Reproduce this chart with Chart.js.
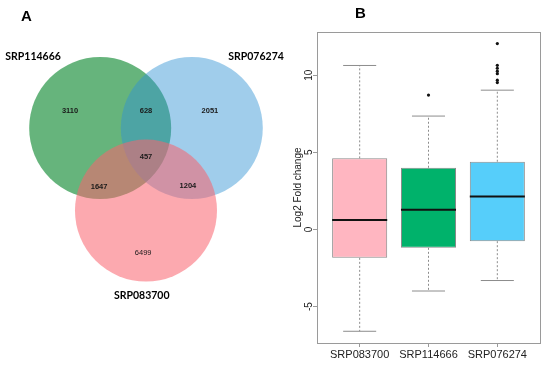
<!DOCTYPE html>
<html>
<head>
<meta charset="utf-8">
<script src="https://cdn.jsdelivr.net/npm/chart.js@4.4.1/dist/chart.umd.min.js"></script>
<style>
  html, body { margin: 0; padding: 0; background: #fff; }
  #wrap { position: relative; width: 550px; height: 368px; overflow: hidden; }
  .panel { position: absolute; top: 0; height: 368px; }
  #vennPanel { left: 0; width: 300px; }
  #boxPanel { left: 275px; width: 275px; }
  .tag { position: absolute; font: bold 15px "Liberation Sans", Arial, sans-serif; color: #000; line-height: 17px; }
</style>
</head>
<body>
<div id="wrap">
  <div class="panel" id="vennPanel"><canvas id="vennChart"></canvas></div>
  <div class="panel" id="boxPanel"><canvas id="boxChart"></canvas></div>
  <div class="tag" style="left:21px; top:7px;">A</div>
  <div class="tag" style="left:355px; top:4px;">B</div>
</div>
<script>
// panel A - venn
const vennSets = ['SRP114666', 'SRP076274', 'SRP083700'];
// 114666 only, 114666&076274, 076274 only, all three, 114666&083700, 076274&083700, 083700 only
const vennCounts = [3110, 628, 2051, 457, 1647, 1204, 6499];

// panel B - boxplot of log2 fold change
const categories = ['SRP083700', 'SRP114666', 'SRP076274'];
const whiskerLow = [-6.60, -3.99, -3.31];
const quart1 = [-1.84, -1.19, -0.76];
const medians = [0.62, 1.27, 2.13];
const quart3 = [4.61, 4.00, 4.39];
const whiskerHigh = [10.63, 7.35, 9.03];
const outliers = [[], [8.71], [12.05, 10.64, 10.45, 10.26, 10.10, 9.68, 9.52]];
const yTicks = [-5, 0, 5, 10];

// layout of the venn (units of one circle radius)
const circleX = [-0.645, 0.645, 0];
const circleY = [0, 0, -1.14];
const circleColors = ['rgba(51,155,80,0.75)', 'rgba(48,146,211,0.46)', 'rgba(250,99,110,0.55)'];
const countPos = [[-1.07, 0.235], [0, 0.235], [0.9, 0.235], [0, -0.4], [-0.66, -0.81], [0.59, -0.8], [-0.04, -1.73]];
const namePos = [[-1.59, 0.98], [1.55, 0.98], [-0.06, -2.32]];

const vennText = {
    id: 'vennText',
    afterDatasetsDraw(chart) {
        const { ctx, scales: { x, y } } = chart;
        ctx.save();
        ctx.textAlign = 'center';
        ctx.textBaseline = 'middle';
        ctx.fillStyle = '#1a1a1a';
        vennCounts.forEach((n, i) => {
            ctx.font = (i === 6 ? '' : 'bold ') + '7.5px "Liberation Sans", Arial, sans-serif';
            ctx.fillText(String(n), x.getPixelForValue(countPos[i][0]), y.getPixelForValue(countPos[i][1]));
        });
        ctx.fillStyle = '#000';
        ctx.font = 'bold 10.5px Lato, "Liberation Sans", sans-serif';
        vennSets.forEach((s, i) => {
            ctx.fillText(s, x.getPixelForValue(namePos[i][0]), y.getPixelForValue(namePos[i][1]));
        });
        ctx.restore();
    }
};

new Chart(document.getElementById('vennChart'), {
    type: 'scatter',
    data: {
        datasets: [{
            data: vennSets.map((s, i) => ({ x: circleX[i], y: circleY[i] })),
            backgroundColor: circleColors,
            borderWidth: 0,
            pointRadius: (c) => {
                const sx = c.chart.scales.x;
                return sx.getPixelForValue(1) - sx.getPixelForValue(0);
            },
        }]
    },
    options: {
        responsive: true,
        maintainAspectRatio: false,
        animation: false,
        events: [],
        layout: { padding: 0 },
        plugins: { legend: { display: false }, tooltip: { enabled: false } },
        scales: {
            x: { type: 'linear', display: false, min: -2.056, max: 2.169 },
            y: { type: 'linear', display: false, min: -3.315, max: 1.768 }
        }
    },
    plugins: [vennText]
});

// boxplot
const positions = categories.map((c, i) => i + 1);
const boxHalf = 0.4;
const capHalf = 0.24;

const boxData = positions.map((x, i) => ({ x, y: [quart1[i], quart3[i]] }));
const medianData = positions.flatMap((x, i) => [
    { x: x - boxHalf, y: medians[i] }, { x: x + boxHalf, y: medians[i] }, { x, y: null }
]);
const whiskerData = positions.flatMap((x, i) => [
    { x, y: quart3[i] }, { x, y: whiskerHigh[i] }, { x, y: null },
    { x, y: quart1[i] }, { x, y: whiskerLow[i] }, { x, y: null }
]);
const capData = positions.flatMap((x, i) => [
    { x: x - capHalf, y: whiskerHigh[i] }, { x: x + capHalf, y: whiskerHigh[i] }, { x, y: null },
    { x: x - capHalf, y: whiskerLow[i] }, { x: x + capHalf, y: whiskerLow[i] }, { x, y: null }
]);
const outlierData = positions.flatMap((x, i) => outliers[i].map(v => ({ x, y: v })));

const frameAndTicks = {
    id: 'frameAndTicks',
    afterDraw(chart) {
        const { ctx, chartArea: a, scales: { y } } = chart;
        ctx.save();
        ctx.strokeStyle = '#9a9a9a';
        ctx.lineWidth = 1;
        ctx.strokeRect(Math.round(a.left) + 0.5, Math.round(a.top) + 0.5, Math.round(a.right - a.left), Math.round(a.bottom - a.top));
        ctx.fillStyle = '#222';
        ctx.font = '10px "Liberation Sans", Arial, sans-serif';
        ctx.textAlign = 'center';
        ctx.textBaseline = 'middle';
        y.ticks.forEach(t => {
            ctx.save();
            ctx.translate(y.right - 8, y.getPixelForValue(t.value));
            ctx.rotate(-Math.PI / 2);
            ctx.fillText(t.label, 0, 0);
            ctx.restore();
        });
        ctx.restore();
    }
};

new Chart(document.getElementById('boxChart'), {
    type: 'bar',
    data: {
        datasets: [
            {
                type: 'bar',
                data: boxData,
                backgroundColor: ['rgb(255,182,193)', 'rgb(0,178,107)', 'rgb(86,206,250)'],
                borderColor: '#8a8a8a',
                borderWidth: 1,
                borderSkipped: false,
                barPercentage: 0.8,
                categoryPercentage: 1,
                order: 4
            },
            {
                type: 'line',
                data: whiskerData,
                borderColor: '#8c8c8c',
                borderWidth: 1,
                borderDash: [2, 2],
                pointRadius: 0,
                order: 3
            },
            {
                type: 'line',
                data: capData,
                borderColor: '#8c8c8c',
                borderWidth: 1,
                pointRadius: 0,
                order: 2
            },
            {
                type: 'line',
                data: medianData,
                borderColor: '#111',
                borderWidth: 2,
                pointRadius: 0,
                order: 1
            },
            {
                type: 'scatter',
                data: outlierData,
                backgroundColor: '#111',
                borderWidth: 0,
                pointRadius: 1.6,
                order: 0
            }
        ]
    },
    options: {
        responsive: true,
        maintainAspectRatio: false,
        animation: false,
        events: [],
        layout: { padding: { left: 0, right: 10, top: 32, bottom: 0 } },
        plugins: { legend: { display: false }, tooltip: { enabled: false } },
        scales: {
            x: {
                type: 'linear',
                offset: false,
                min: 0.38,
                max: 3.62,
                afterBuildTicks: s => { s.ticks = positions.map(v => ({ value: v })); },
                afterFit: s => { s.height = 25; },
                border: { display: false },
                grid: { offset: false, drawOnChartArea: false, drawTicks: true, tickLength: 4, color: '#9a9a9a' },
                ticks: {
                    autoSkip: false,
                    maxRotation: 0,
                    padding: 1,
                    color: '#222',
                    font: { family: '"Liberation Sans", Arial, sans-serif', size: 11 },
                    callback: v => categories[v - 1]
                }
            },
            y: {
                type: 'linear',
                min: -7.36,
                max: 12.8,
                afterBuildTicks: s => { s.ticks = yTicks.map(v => ({ value: v })); },
                afterFit: s => { s.width = 42; },
                border: { display: false },
                grid: { drawOnChartArea: false, drawTicks: true, tickLength: 4, color: '#9a9a9a' },
                ticks: { display: false },
                title: {
                    display: true,
                    text: 'Log2 Fold change',
                    color: '#222',
                    font: { family: '"Liberation Sans", Arial, sans-serif', size: 10 },
                    padding: { top: 17, bottom: 0 }
                }
            }
        }
    },
    plugins: [frameAndTicks]
});
</script>
</body>
</html>
